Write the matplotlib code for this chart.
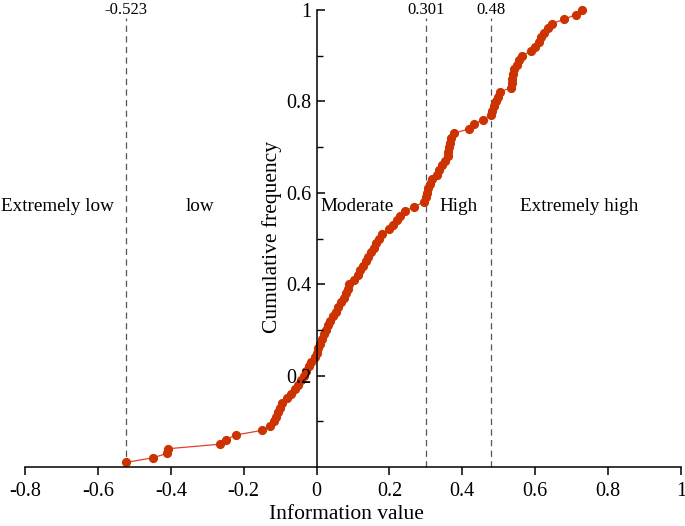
"""Cumulative frequency of information value with class breaks."""

import matplotlib

matplotlib.use("Agg")
import matplotlib.pyplot as plt
from matplotlib.ticker import FixedLocator

# information value of each unit, sorted
info_value = [
    -0.523, -0.450, -0.409, -0.407, -0.264, -0.249, -0.222, -0.151, -0.128, -0.118,
    -0.111, -0.106, -0.100, -0.095, -0.082, -0.071, -0.060, -0.050, -0.042, -0.035,
    -0.028, -0.022, -0.014, -0.003, 0.002, 0.005, 0.009, 0.014, 0.020, 0.026,
    0.031, 0.036, 0.046, 0.053, 0.058, 0.068, 0.074, 0.080, 0.085, 0.090,
    0.104, 0.113, 0.118, 0.128, 0.135, 0.142, 0.150, 0.157, 0.163, 0.170,
    0.180, 0.198, 0.210, 0.220, 0.230, 0.243, 0.268, 0.296, 0.300, 0.302,
    0.305, 0.312, 0.318, 0.330, 0.337, 0.343, 0.352, 0.360, 0.362, 0.363,
    0.365, 0.369, 0.376, 0.419, 0.432, 0.456, 0.478, 0.482, 0.488, 0.493,
    0.497, 0.502, 0.533, 0.535, 0.537, 0.539, 0.543, 0.549, 0.556, 0.564,
    0.588, 0.600, 0.610, 0.616, 0.625, 0.634, 0.645, 0.680, 0.712, 0.728,
]
cum_freq = [
    0.01, 0.02, 0.03, 0.04, 0.05, 0.06, 0.07, 0.08, 0.09, 0.10,
    0.11, 0.12, 0.13, 0.14, 0.15, 0.16, 0.17, 0.18, 0.19, 0.20,
    0.21, 0.22, 0.23, 0.24, 0.25, 0.26, 0.27, 0.28, 0.29, 0.30,
    0.31, 0.32, 0.33, 0.34, 0.35, 0.36, 0.37, 0.38, 0.39, 0.40,
    0.41, 0.42, 0.43, 0.44, 0.45, 0.46, 0.47, 0.48, 0.49, 0.50,
    0.51, 0.52, 0.53, 0.54, 0.55, 0.56, 0.57, 0.58, 0.59, 0.60,
    0.61, 0.62, 0.63, 0.64, 0.65, 0.66, 0.67, 0.68, 0.69, 0.70,
    0.71, 0.72, 0.73, 0.74, 0.75, 0.76, 0.77, 0.78, 0.79, 0.80,
    0.81, 0.82, 0.83, 0.84, 0.85, 0.86, 0.87, 0.88, 0.89, 0.90,
    0.91, 0.92, 0.93, 0.94, 0.95, 0.96, 0.97, 0.98, 0.99, 1.00,
]

breaks = [-0.523, 0.301, 0.48]
break_labels = ["-0.523", "0.301", "0.48"]

classes = ["Extremely low", "low", "Moderate", "High", "Extremely high"]
class_x = [-0.71, -0.32, 0.11, 0.39, 0.72]

x_ticks = [-0.8, -0.6, -0.4, -0.2, 0, 0.2, 0.4, 0.6, 0.8, 1]
x_tick_labels = ["-0.8", "-0.6", "-0.4", "-0.2", "0", "0.2", "0.4", "0.6", "0.8", "1"]
y_ticks = [0.2, 0.4, 0.6, 0.8, 1]
y_tick_labels = ["0.2", "0.4", "0.6", "0.8", "1"]

plt.rcParams["font.family"] = ["Liberation Serif", "DejaVu Serif"]

fig = plt.figure(figsize=(6.85, 5.26), dpi=100)
ax = fig.add_axes([25 / 685, 1 - 467 / 526, 656 / 685, 457 / 526])
ax.set_axisbelow(False)  # tick labels drawn over the curve, as in the original

ax.plot(info_value, cum_freq, color="#e2402a", linewidth=0.9, zorder=2.0, clip_on=False)
ax.plot(info_value, cum_freq, linestyle="none", marker="o", markersize=5.6,
        color="#cc3300", zorder=2.1, clip_on=False)

for b, lab in zip(breaks, break_labels):
    ax.plot([b, b], [0, 0.982], color="#555555", linewidth=0.9,
            dashes=(5, 3.5), zorder=1.5)
    ax.text(b, 1.0, lab, ha="center", va="center", fontsize=12)

for name, cx in zip(classes, class_x):
    ax.text(cx, 0.571, name, ha="center", va="center", fontsize=13.8)

ax.set_xlim(-0.8, 1.0)
ax.set_ylim(0, 1)

ax.spines["left"].set_position(("data", 0))
ax.spines["bottom"].set_position(("data", 0))
ax.spines["top"].set_visible(False)
ax.spines["right"].set_visible(False)
for s in ("left", "bottom"):
    ax.spines[s].set_linewidth(1.1)

ax.set_xticks(x_ticks)
ax.set_xticklabels(x_tick_labels, fontsize=14.5)
ax.set_yticks(y_ticks)
ax.set_yticklabels(y_tick_labels, fontsize=14.5)
ax.yaxis.set_minor_locator(FixedLocator([0.1, 0.3, 0.5, 0.7, 0.9]))

ax.tick_params(axis="x", direction="out", length=6, width=1.1, pad=5)
ax.tick_params(axis="y", which="major", direction="in", length=6, width=1.1, pad=4)
ax.tick_params(axis="y", which="minor", direction="in", length=4, width=1.0)

ax.set_xlabel("Information value", fontsize=15.5)
ax.xaxis.set_label_coords(0.49, -0.083)
ax.set_ylabel("Cumulative frequency", fontsize=15.5)
ax.yaxis.set_label_coords(0.392, 0.503)

fig.savefig("out.png", dpi=100)
